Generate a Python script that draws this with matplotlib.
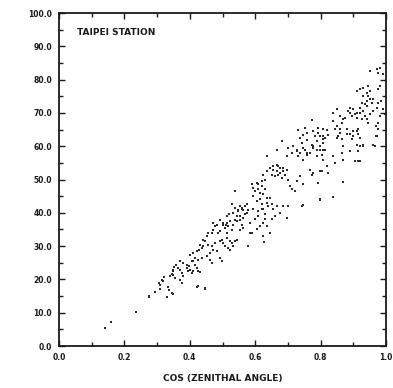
import matplotlib
matplotlib.use("Agg")
import matplotlib.pyplot as plt
from matplotlib.ticker import MultipleLocator, FormatStrFormatter

title = "TAIPEI STATION"
x_label = "COS (ZENITHAL ANGLE)"

cos_z = [
    0.141, 0.159, 0.235, 0.275, 0.294, 0.309, 0.329, 0.307, 0.314, 0.321,
    0.334, 0.337, 0.345, 0.350, 0.339, 0.345, 0.350, 0.353, 0.358, 0.365,
    0.370, 0.375, 0.380, 0.370, 0.380, 0.390, 0.398, 0.400, 0.410, 0.406,
    0.416, 0.421, 0.426, 0.431, 0.423, 0.446, 0.401, 0.411, 0.421, 0.429,
    0.436, 0.441, 0.436, 0.452, 0.462, 0.467, 0.492, 0.497, 0.446, 0.457,
    0.467, 0.477, 0.462, 0.472, 0.482, 0.467, 0.472, 0.477, 0.472, 0.482,
    0.492, 0.487, 0.497, 0.502, 0.513, 0.523, 0.533, 0.543, 0.518, 0.523,
    0.492, 0.502, 0.511, 0.518, 0.523, 0.528, 0.513, 0.513, 0.521, 0.533,
    0.543, 0.554, 0.559, 0.554, 0.564, 0.574, 0.579, 0.584, 0.528, 0.538,
    0.548, 0.554, 0.564, 0.574, 0.538, 0.589, 0.594, 0.599, 0.605, 0.609,
    0.615, 0.620, 0.625, 0.615, 0.620, 0.625, 0.630, 0.635, 0.645, 0.650,
    0.655, 0.650, 0.660, 0.666, 0.676, 0.686, 0.696, 0.594, 0.605, 0.594,
    0.609, 0.599, 0.625, 0.635, 0.645, 0.625, 0.589, 0.625, 0.630, 0.635,
    0.645, 0.650, 0.655, 0.660, 0.666, 0.671, 0.676, 0.681, 0.686, 0.691,
    0.696, 0.701, 0.706, 0.712, 0.722, 0.727, 0.737, 0.747, 0.773, 0.768,
    0.778, 0.701, 0.742, 0.798, 0.793, 0.803, 0.635, 0.666, 0.681, 0.696,
    0.701, 0.712, 0.717, 0.727, 0.732, 0.742, 0.737, 0.747, 0.752, 0.757,
    0.768, 0.773, 0.778, 0.783, 0.788, 0.793, 0.798, 0.803, 0.808, 0.813,
    0.819, 0.823, 0.773, 0.732, 0.752, 0.793, 0.951, 0.972, 0.982, 0.976,
    0.990, 0.910, 0.920, 0.930, 0.946, 0.951, 0.946, 0.951, 0.941, 0.936,
    0.941, 0.976, 0.982, 0.976, 0.986, 0.971, 0.839, 0.849, 0.859, 0.869,
    0.865, 0.875, 0.885, 0.890, 0.900, 0.905, 0.910, 0.920, 0.926, 0.920,
    0.930, 0.936, 0.941, 0.946, 0.951, 0.961, 0.982, 0.992, 0.997, 0.839,
    0.844, 0.849, 0.854, 0.859, 0.865, 0.869, 0.880, 0.890, 0.895, 0.900,
    0.910, 0.915, 0.920, 0.910, 0.920, 0.930, 0.890, 0.865, 0.869, 0.905,
    0.920, 0.976, 0.976, 0.973, 0.966, 0.839, 0.844, 0.808, 0.778, 0.757,
    0.747, 0.798, 0.819, 0.823, 0.808, 0.696, 0.747, 0.798, 0.839, 0.869,
    0.915, 0.915, 0.930, 0.961, 0.970, 0.970, 0.579, 0.627, 0.446, 0.426,
    0.276,
    # second reading of the dense parts of the cloud
    0.350, 0.355, 0.348, 0.390, 0.395, 0.406, 0.370, 0.375, 0.309, 0.319,
    0.502, 0.508, 0.515, 0.533, 0.538, 0.492, 0.508, 0.528, 0.538, 0.452,
    0.457, 0.441, 0.431, 0.416, 0.426, 0.411, 0.548, 0.559, 0.569, 0.564,
    0.543, 0.609, 0.620, 0.630, 0.635, 0.640, 0.620, 0.630, 0.609, 0.655,
    0.666, 0.676, 0.686, 0.671, 0.727, 0.737, 0.747, 0.757, 0.788, 0.808,
    0.757, 0.778, 0.798, 0.808, 0.584, 0.605, 0.615, 0.569, 0.559, 0.554,
    0.849, 0.859, 0.880, 0.900, 0.915, 0.930, 0.941, 0.956, 0.961, 0.890,
    0.895, 0.910, 0.926, 0.798, 0.813, 0.788, 0.808,
]

transmissivity = [
    5.5, 7.3, 10.2, 14.7, 16.1, 17.1, 14.7, 18.9, 19.9, 20.7,
    17.7, 16.9, 15.9, 15.5, 20.9, 21.7, 22.9, 23.7, 24.3, 23.4,
    22.7, 21.9, 20.9, 25.4, 24.9, 24.4, 23.9, 22.9, 22.4, 25.4,
    24.4, 23.4, 22.4, 22.1, 17.7, 17.1, 27.4, 27.9, 28.4, 28.9,
    29.4, 29.9, 26.4, 26.9, 25.9, 24.9, 26.4, 25.4, 31.4, 30.4,
    29.9, 30.9, 27.9, 28.9, 28.4, 33.9, 34.9, 35.9, 36.9, 36.4,
    34.4, 33.9, 31.9, 30.9, 32.4, 31.4, 29.9, 31.9, 29.4, 28.9,
    37.9, 36.9, 36.4, 35.9, 37.4, 34.9, 33.9, 38.9, 39.5, 39.9,
    38.9, 37.9, 36.4, 34.9, 35.4, 39.9, 40.9, 33.9, 42.5, 41.4,
    40.4, 41.9, 40.9, 42.5, 46.5, 48.5, 47.5, 46.5, 49.0, 47.0,
    46.0, 48.0, 45.5, 44.0, 42.5, 41.0, 39.5, 43.0, 44.5, 42.5,
    41.0, 38.0, 39.0, 42.0, 40.0, 42.0, 38.5, 45.0, 43.5, 41.0,
    40.5, 38.0, 37.0, 36.0, 34.0, 33.0, 34.0, 51.5, 50.0, 52.5,
    53.5, 51.5, 53.0, 51.0, 52.5, 54.0, 52.0, 50.5, 53.5, 51.5,
    53.0, 50.0, 48.0, 47.0, 46.5, 49.5, 51.0, 48.5, 51.5, 53.0,
    52.0, 42.0, 42.0, 44.0, 49.0, 52.5, 57.0, 59.0, 61.5, 57.0,
    59.5, 58.0, 60.0, 58.5, 57.0, 61.0, 62.5, 63.5, 59.0, 62.0,
    58.0, 60.5, 59.5, 63.0, 61.5, 64.0, 59.0, 57.5, 61.0, 62.5,
    65.0, 63.5, 68.0, 65.0, 65.5, 65.5, 82.6, 83.1, 83.6, 82.1,
    81.6, 76.6, 77.1, 77.6, 78.2, 76.6, 75.1, 74.1, 73.6, 72.6,
    72.1, 77.1, 78.2, 73.1, 73.6, 71.6, 70.1, 71.1, 69.1, 68.1,
    67.1, 68.6, 70.6, 71.6, 71.1, 69.6, 70.1, 71.6, 73.1, 70.1,
    70.6, 69.1, 68.1, 67.1, 69.6, 70.6, 69.1, 71.1, 69.6, 67.6,
    65.1, 62.6, 63.1, 64.1, 62.1, 60.1, 65.1, 63.6, 62.1, 63.1,
    64.6, 63.6, 62.6, 60.5, 60.0, 60.0, 58.5, 58.0, 56.0, 55.5,
    55.5, 67.1, 65.1, 63.1, 60.2, 57.0, 55.0, 62.1, 60.1, 58.0,
    56.0, 52.6, 54.1, 52.1, 63.1, 38.5, 42.2, 43.8, 44.8, 49.2,
    55.5, 58.5, 60.5, 60.5, 63.0, 66.0, 30.1, 31.1, 17.4, 17.9,
    14.9,
    21.4, 20.4, 22.4, 23.4, 22.4, 21.9, 19.9, 18.9, 18.4, 19.4,
    36.4, 35.4, 36.9, 36.4, 37.9, 31.4, 29.9, 30.9, 31.4, 32.9,
    33.9, 31.9, 30.4, 26.4, 25.9, 25.4, 40.9, 41.4, 39.5, 38.5,
    37.4, 48.5, 49.5, 47.0, 44.5, 42.0, 41.0, 38.0, 39.0, 54.1,
    54.5, 53.5, 52.5, 51.5, 59.0, 58.0, 59.5, 57.5, 59.0, 59.0,
    64.0, 64.6, 63.1, 65.1, 37.0, 35.0, 36.0, 42.0, 41.0, 39.0,
    66.1, 65.1, 63.6, 64.6, 65.1, 75.1, 76.1, 73.1, 74.1, 70.1,
    69.1, 68.6, 68.1, 60.1, 59.0, 57.0, 56.0,
]

x_ticks = [0.0, 0.2, 0.4, 0.6, 0.8, 1.0]
y_ticks = [0, 10, 20, 30, 40, 50, 60, 70, 80, 90, 100]

W, H = 393, 388
fig = plt.figure(figsize=(W / 100, H / 100), dpi=100)
ax = fig.add_axes([59 / W, (H - 346) / H, (386 - 59) / W, (346 - 13) / H])

ink = "#1a1a1a"
ax.scatter(cos_z, transmissivity, s=2.2, marker="s", color="#2a2a2a",
           linewidths=0)

ax.set_xlim(0, 1.0)
ax.set_ylim(0, 100)
ax.set_xticks(x_ticks)
ax.set_yticks(y_ticks)
ax.xaxis.set_major_formatter(FormatStrFormatter("%.1f"))
ax.yaxis.set_major_formatter(FormatStrFormatter("%.1f"))
ax.xaxis.set_minor_locator(MultipleLocator(0.1))
ax.yaxis.set_minor_locator(MultipleLocator(5))
ax.tick_params(which="both", direction="in", top=True, right=True,
               color=ink, width=1.0)
ax.tick_params(which="major", length=4, labelsize=5.5, pad=5)
ax.tick_params(which="minor", length=3)
for lab in ax.get_xticklabels() + ax.get_yticklabels():
    lab.set_fontweight("bold")
    lab.set_color(ink)
for sp in ax.spines.values():
    sp.set_linewidth(1.3)
    sp.set_color(ink)

ax.text(0.055, 0.955, title, transform=ax.transAxes, fontsize=6.5,
        fontweight="bold", color=ink, ha="left", va="top")
fig.text((59 + 386) / 2 / W, 1 - 378 / H, x_label, fontsize=6.5,
         fontweight="bold", color=ink, ha="center", va="center")

fig.savefig("out.png", dpi=100, facecolor="white")
